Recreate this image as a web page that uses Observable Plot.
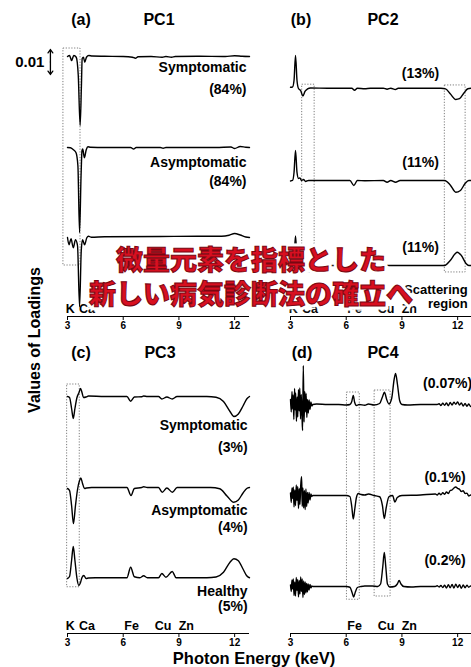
<!DOCTYPE html>
<html>
<head>
<meta charset="utf-8">
<script src="https://cdn.jsdelivr.net/npm/d3@7"></script>
<script src="https://cdn.jsdelivr.net/npm/@observablehq/plot@0.6"></script>
<style>
  html, body { margin: 0; padding: 0; background: #fff; }
  body { width: 471px; height: 667px; position: relative; overflow: hidden;
         font-family: "Liberation Sans", Arial, sans-serif; font-weight: bold; color: #000; }
  .pane { position: absolute; }
  .pane svg { max-width: none !important; }
  .t { position: absolute; transform: translate(-50%, -50%); white-space: nowrap; }
  .banner { position: absolute; left: 0; top: 242px; width: 502px; text-align: center;
            font-family: "Noto Sans CJK JP", "Noto Sans CJK SC", sans-serif; font-weight: 900;
            font-size: 27px; line-height: 34px; }
  .banner div { position: absolute; left: 0; top: 0; width: 100%; }
  .halo { color: #fff; -webkit-text-stroke: 7px #fff;
          text-shadow: 0 0 3px #fff, 0 0 5px #fff, 0 2px 8px rgba(255,255,255,0.7); }
  .ink { color: #d80f20; -webkit-text-stroke: 1px #7a0712; }
</style>
</head>
<body>
<script>
// ---- loading spectra: [photon energy (keV), loading] ----
const pc1Symptomatic = [[3.00,0.0000],[3.11,0.0004],[3.22,-0.0016],[3.34,0.0004],[3.47,-0.0003],[3.58,-0.0076],[3.68,-0.0276],[3.75,-0.0116],[3.79,-0.0008],[3.86,-0.0003],[3.93,-0.0023],[4.02,-0.0003],[4.15,0.0004],[4.33,0.0002],[5.0,0.0001],[6.0,0.0000],[6.5,-0.0003],[6.66,-0.0007],[6.8,-0.0001],[7.5,0.0000],[8.1,-0.0003],[8.3,0.0000],[8.6,-0.0003],[8.8,0.0000],[10.0,0.0001],[11.5,0.0000],[12.0,0.0003],[12.4,0.0001],[12.8,0.0000]];
const pc1Asymptomatic = [[3.00,0.0000],[3.16,-0.0001],[3.32,-0.0009],[3.46,-0.0021],[3.56,-0.0073],[3.65,-0.0341],[3.73,-0.0113],[3.78,-0.0013],[3.82,-0.0006],[3.91,-0.0041],[4.01,-0.0009],[4.10,0.0003],[4.24,0.0001],[5.0,0.0000],[6.4,0.0000],[6.56,-0.0006],[6.7,0.0000],[8.0,0.0000],[8.15,-0.0003],[8.3,0.0000],[9.0,0.0000],[11.0,0.0000],[11.8,0.0002],[12.0,-0.0004],[12.3,0.0004],[12.6,0.0001],[12.8,0.0000]];
const pc1Healthy = [[3.00,0.0000],[3.08,-0.0029],[3.19,-0.0005],[3.31,-0.0041],[3.43,-0.0009],[3.54,-0.0033],[3.65,-0.0277],[3.74,-0.0053],[3.81,-0.0009],[3.92,-0.0029],[4.04,-0.0001],[4.13,0.0005],[4.29,0.0001],[5.0,0.0003],[8.0,0.0004],[10.0,0.0005],[11.3,0.0005],[11.7,0.0009],[12.0,0.0016],[12.3,0.0010],[12.6,0.0002],[12.8,0.0000]];

const pc2Symptomatic = [[3.00,0.0004],[3.11,0.0005],[3.19,0.0031],[3.27,0.0131],[3.35,0.0031],[3.43,-0.0001],[3.54,-0.0009],[3.67,-0.0031],[3.78,-0.0013],[3.92,-0.0003],[4.08,0.0001],[5.0,0.0000],[6.3,0.0000],[6.45,-0.0008],[6.6,0.0000],[7.0,-0.0002],[7.3,0.0000],[8.0,0.0000],[8.2,-0.0004],[8.4,0.0000],[8.65,-0.0005],[8.8,0.0000],[10.0,0.0000],[11.1,0.0000],[11.35,-0.0003],[11.6,-0.0022],[11.9,-0.0045],[12.1,-0.0042],[12.35,-0.0018],[12.55,-0.0002],[12.8,0.0000]];
const pc2Asymptomatic = [[3.00,-0.0002],[3.11,0.0000],[3.19,0.0032],[3.27,0.0120],[3.35,0.0032],[3.43,0.0008],[3.51,0.0010],[3.59,0.0000],[3.70,0.0004],[3.81,-0.0004],[3.97,0.0000],[5.0,0.0000],[6.2,0.0000],[6.41,-0.0020],[6.6,0.0000],[7.0,-0.0001],[8.0,0.0000],[8.2,-0.0007],[8.4,0.0000],[8.66,-0.0007],[8.9,0.0000],[11.3,0.0000],[11.6,-0.0018],[11.9,-0.0047],[12.15,-0.0040],[12.4,-0.0012],[12.6,0.0000],[12.8,0.0000]];
const pc2Healthy = [[3.00,0.0002],[3.11,0.0004],[3.19,0.0030],[3.27,0.0118],[3.35,0.0030],[3.43,0.0004],[3.6,0.0002],[3.8,-0.0002],[4.0,0.0000],[6.2,0.0000],[6.41,0.0010],[6.6,0.0000],[8.0,0.0000],[8.1,0.0003],[8.3,0.0000],[11.3,0.0000],[11.6,0.0020],[11.98,0.0053],[12.2,0.0040],[12.45,0.0008],[12.6,0.0000],[12.8,0.0000]];

const pc3Symptomatic = [[3.00,0.0000],[3.11,-0.0004],[3.22,-0.0048],[3.31,-0.0088],[3.40,-0.0048],[3.51,-0.0004],[3.62,0.0016],[3.70,0.0032],[3.78,0.0016],[3.86,-0.0004],[4.00,-0.0002],[4.13,0.0002],[5.0,0.0000],[6.2,0.0000],[6.4,-0.0019],[6.6,-0.0002],[7.0,-0.0001],[7.1,0.0002],[7.3,0.0000],[7.9,0.0000],[8.08,-0.0010],[8.35,-0.0002],[8.64,-0.0010],[8.9,0.0000],[10.5,0.0000],[11.0,-0.0003],[11.4,-0.0020],[11.75,-0.0060],[11.96,-0.0080],[12.2,-0.0070],[12.45,-0.0038],[12.65,-0.0010],[12.8,0.0000]];
const pc3Asymptomatic = [[3.00,-0.0004],[3.11,-0.0012],[3.22,-0.0072],[3.32,-0.0144],[3.43,-0.0072],[3.54,-0.0008],[3.65,0.0028],[3.72,0.0038],[3.81,0.0016],[3.92,-0.0004],[4.02,-0.0002],[4.3,0.0000],[6.2,0.0000],[6.42,-0.0032],[6.6,-0.0004],[7.0,0.0000],[7.1,0.0003],[7.3,0.0000],[7.9,0.0000],[8.1,-0.0019],[8.35,-0.0002],[8.65,-0.0019],[8.9,0.0000],[10.7,0.0000],[11.2,-0.0005],[11.6,-0.0035],[11.95,-0.0059],[12.2,-0.0050],[12.45,-0.0022],[12.65,-0.0004],[12.8,0.0000]];
const pc3Healthy = [[3.00,-0.0003],[3.11,0.0005],[3.22,0.0069],[3.31,0.0125],[3.40,0.0069],[3.51,-0.0003],[3.61,-0.0031],[3.70,-0.0019],[3.78,0.0001],[3.88,0.0009],[4.00,-0.0003],[4.13,-0.0001],[4.5,0.0000],[6.2,0.0000],[6.4,0.0042],[6.6,0.0004],[6.9,0.0000],[7.1,0.0008],[7.3,0.0000],[7.9,0.0000],[8.08,0.0017],[8.3,0.0002],[8.64,0.0025],[8.85,0.0000],[10.5,0.0000],[11.0,0.0003],[11.4,0.0022],[11.75,0.0062],[11.96,0.0076],[12.2,0.0068],[12.45,0.0035],[12.65,0.0008],[12.8,0.0000]];

const pc4Symptomatic = [[3.00,0.0020],[3.04,-0.0030],[3.08,0.0052],[3.11,-0.0018],[3.14,0.0038],[3.18,-0.0060],[3.22,0.0064],[3.25,-0.0022],[3.28,0.0046],[3.32,-0.0068],[3.36,0.0030],[3.39,-0.0050],[3.43,0.0060],[3.47,-0.0026],[3.50,0.0066],[3.54,-0.0058],[3.58,0.0040],[3.62,-0.0046],[3.65,-0.0104],[3.69,0.0156],[3.73,-0.0070],[3.77,0.0052],[3.80,-0.0030],[3.84,0.0044],[3.88,-0.0052],[3.92,0.0020],[3.96,-0.0034],[4.00,0.0018],[4.05,-0.0020],[4.10,0.0010],[4.15,-0.0006],[4.20,0.0000],[4.4,0.0002],[5.0,0.0000],[5.6,0.0000],[6.0,-0.0002],[6.2,0.0000],[6.3,0.0012],[6.38,0.0036],[6.45,0.0010],[6.55,-0.0004],[6.7,0.0000],[7.0,-0.0003],[7.2,0.0002],[7.5,-0.0002],[7.8,0.0004],[7.95,0.0030],[8.06,0.0049],[8.18,0.0020],[8.3,0.0002],[8.45,0.0025],[8.58,0.0100],[8.66,0.0124],[8.76,0.0080],[8.88,0.0015],[9.0,0.0000],[9.3,-0.0002],[10.0,0.0000],[10.9,0.0000],[11.0,0.0003],[11.1,-0.0004],[11.2,0.0005],[11.3,-0.0003],[11.4,0.0006],[11.5,-0.0005],[11.6,0.0008],[11.7,-0.0002],[11.8,0.0009],[11.9,0.0001],[12.0,0.0010],[12.1,-0.0002],[12.2,0.0006],[12.3,-0.0006],[12.4,0.0004],[12.5,-0.0007],[12.6,0.0002],[12.7,-0.0008],[12.8,-0.0003]];
const pc4Asymptomatic = [[3.00,0.0010],[3.04,-0.0028],[3.08,0.0030],[3.12,-0.0012],[3.15,0.0034],[3.19,-0.0046],[3.23,0.0022],[3.27,-0.0040],[3.31,0.0042],[3.35,-0.0020],[3.39,0.0036],[3.43,-0.0052],[3.47,0.0028],[3.51,-0.0036],[3.55,0.0040],[3.60,0.0075],[3.63,-0.0044],[3.67,0.0030],[3.71,-0.0050],[3.75,0.0020],[3.79,-0.0056],[3.83,0.0026],[3.87,-0.0044],[3.91,0.0012],[3.95,-0.0030],[4.00,0.0012],[4.05,-0.0018],[4.10,0.0006],[4.15,-0.0004],[4.20,0.0000],[5.0,0.0000],[6.0,0.0000],[6.2,-0.0004],[6.3,-0.0045],[6.38,-0.0094],[6.46,-0.0055],[6.55,-0.0008],[6.65,0.0008],[6.8,0.0004],[7.0,0.0002],[7.2,0.0006],[7.5,0.0000],[7.8,-0.0005],[7.95,-0.0040],[8.05,-0.0092],[8.15,-0.0050],[8.3,-0.0005],[8.5,0.0000],[8.62,-0.0026],[8.75,-0.0008],[9.0,0.0000],[10.0,0.0002],[10.8,0.0006],[10.9,0.0002],[11.0,0.0009],[11.1,0.0003],[11.2,0.0011],[11.3,0.0005],[11.4,0.0014],[11.5,0.0008],[11.6,0.0020],[11.7,0.0022],[11.8,0.0030],[11.9,0.0034],[12.0,0.0028],[12.1,0.0025],[12.2,0.0016],[12.3,0.0019],[12.4,0.0008],[12.5,0.0009],[12.6,-0.0002],[12.7,0.0002],[12.8,-0.0006]];
const pc4Healthy = [[3.00,0.0006],[3.04,-0.0020],[3.08,0.0026],[3.12,-0.0010],[3.15,0.0030],[3.19,-0.0036],[3.23,0.0018],[3.27,-0.0038],[3.31,0.0036],[3.35,-0.0016],[3.39,0.0028],[3.43,-0.0042],[3.47,0.0024],[3.51,-0.0030],[3.55,0.0038],[3.59,-0.0020],[3.63,0.0030],[3.67,-0.0044],[3.71,0.0022],[3.75,-0.0032],[3.79,0.0018],[3.83,-0.0026],[3.87,0.0012],[3.91,-0.0022],[3.95,0.0010],[4.00,-0.0014],[4.05,0.0008],[4.10,-0.0006],[4.15,0.0002],[4.20,0.0000],[5.0,0.0000],[6.0,0.0000],[6.2,-0.0003],[6.32,-0.0025],[6.40,-0.0042],[6.50,-0.0020],[6.6,-0.0004],[6.8,0.0000],[7.0,0.0002],[7.4,0.0002],[7.7,0.0000],[7.85,0.0010],[7.97,0.0080],[8.05,0.0136],[8.13,0.0080],[8.22,0.0010],[8.35,-0.0002],[8.6,0.0000],[8.75,0.0010],[8.85,0.0024],[8.95,0.0010],[9.1,0.0000],[9.5,-0.0002],[10.0,0.0000],[10.8,0.0000],[10.9,0.0003],[11.0,-0.0002],[11.1,0.0004],[11.2,-0.0004],[11.3,0.0005],[11.4,-0.0006],[11.5,0.0007],[11.6,-0.0005],[11.7,0.0008],[11.8,-0.0006],[11.9,0.0009],[12.0,-0.0004],[12.1,0.0007],[12.2,-0.0007],[12.3,0.0006],[12.4,-0.0005],[12.5,0.0005],[12.6,-0.0003],[12.7,0.0002],[12.8,0.0000]];

// ---- text ----
const pc1Labels = ["Symptomatic", "(84%)", "Asymptomatic", "(84%)"];
const pc2Labels = ["(13%)", "(11%)", "(11%)"];
const pc3Labels = ["Symptomatic", "(3%)", "Asymptomatic", "(4%)", "Healthy", "(5%)"];
const pc4Labels = ["(0.07%)", "(0.1%)", "(0.2%)"];
const scatterLabel = ["Scattering", "region"];
const elements = ["K", "Ca", "Fe", "Cu", "Zn"];
const elementKeV = [3.15, 4.05, 6.45, 8.15, 9.4];
const energyTicks = [3, 6, 9, 12];
const scaleBar = 0.01;

// ---- layout ----
const PX_PER_UNIT = 2500;          // 0.01 loading = 25 px
const ENERGY = [3, 12.8];
const FONT = "'Liberation Sans', Arial, sans-serif";

function el(idx) { return idx.map(i => ({name: elements[i], e: elementKeV[i]})); }

function makePanel(p) {
  const innerH = p.height - p.marginBottom;
  const yMax = p.firstBaseline / PX_PER_UNIT;
  const yMin = yMax - innerH / PX_PER_UNIT;
  const rows = p.curves.flatMap((pts, k) => pts.map(([e, v]) => ({e, v: v + p.offsets[k], k})));
  const rects = p.rects.map(([x1, x2, y1, y2]) => ({x1, x2, y1, y2}));
  const labels = p.labels.map((t, i) => ({t, e: p.labelPos[i][0], v: p.labelPos[i][1]}));
  const chart = Plot.plot({
    width: p.width, height: p.height,
    marginLeft: p.marginLeft, marginRight: p.width - p.marginLeft - 182,
    marginTop: 0, marginBottom: p.marginBottom,
    x: {domain: ENERGY},
    y: {domain: [yMin, yMax], axis: null},
    style: {background: "transparent", overflow: "visible", maxWidth: "none",
            fontFamily: FONT, fontWeight: "bold", color: "#000"},
    marks: [
      Plot.rect(rects, {x1: "x1", x2: "x2", y1: "y1", y2: "y2", fill: "none",
        stroke: "#7c7c7c", strokeWidth: 1, strokeDasharray: "1.2,1.6"}),
      Plot.line(rows, {x: "e", y: "v", z: "k", curve: "monotone-x", stroke: "#000", strokeWidth: 1.4}),
      Plot.ruleY([yMin], {stroke: "#000", strokeWidth: 1}),
      Plot.axisX({ticks: energyTicks, tickSize: 4, tickPadding: 1, fontSize: 10, fontWeight: "bold", label: null}),
      Plot.text(p.elements, {x: "e", text: "name", frameAnchor: "bottom", dy: -4, fontSize: 12.5, fontWeight: "bold"}),
      Plot.text(labels, {x: "e", y: "v", text: "t", textAnchor: p.labelAnchor, fontSize: 14, fontWeight: "bold"}),
      ...(p.extra || [])
    ]
  });
  const wrap = document.createElement("div");
  wrap.className = "pane";
  Object.assign(wrap.style, {left: p.left + "px", top: p.top + "px", width: p.width + "px", height: p.height + "px"});
  wrap.appendChild(chart);
  document.body.appendChild(wrap);
}

// (a) PC1
makePanel({
  left: 0, top: 0, width: 260, height: 335, marginLeft: 67, marginBottom: 19, firstBaseline: 56,
  curves: [pc1Symptomatic, pc1Asymptomatic, pc1Healthy], offsets: [0, -0.0364, -0.0724],
  rects: [[2.78, 3.70, 0.0032, -0.0836]],
  labels: pc1Labels, labelAnchor: "end",
  labelPos: [[12.64, -0.0044], [12.64, -0.0132], [12.64, -0.0424], [12.64, -0.0502]],
  elements: el([0, 1]),
  extra: [
    Plot.arrow([{y1: -0.0022, y2: -0.0022 + scaleBar / 2}, {y1: -0.0022, y2: -0.0022 - scaleBar / 2}],
      {x1: 2.08, x2: 2.08, y1: "y1", y2: "y2", stroke: "#000", strokeWidth: 1.3, headLength: 6, headAngle: 70}),
    Plot.text([scaleBar], {x: 1.76, y: -0.0024, text: d => d.toFixed(2), textAnchor: "end", fontSize: 15, fontWeight: "bold"})
  ]
});

// (b) PC2
makePanel({
  left: 240, top: 0, width: 250, height: 335, marginLeft: 50, marginBottom: 19, firstBaseline: 87.7,
  curves: [pc2Symptomatic, pc2Asymptomatic, pc2Healthy], offsets: [0, -0.0369, -0.0709],
  rects: [[3.63, 4.30, 0.0014, -0.0737], [11.31, 12.43, 0.0011, -0.0737]],
  labels: pc2Labels, labelAnchor: "middle",
  labelPos: [[10.0, 0.0059], [10.0, -0.0297], [10.0, -0.0637]],
  elements: el([0, 1, 2, 3, 4]),
  extra: [
    Plot.text([scatterLabel[0]], {x: 12.54, text: d => d, frameAnchor: "bottom", dy: -23, textAnchor: "end", fontSize: 13, fontWeight: "bold"}),
    Plot.text([scatterLabel[1]], {x: 12.54, text: d => d, frameAnchor: "bottom", dy: -9, textAnchor: "end", fontSize: 13, fontWeight: "bold"})
  ]
});

// (c) PC3
makePanel({
  left: 0, top: 335, width: 260, height: 332, marginLeft: 67, marginBottom: 34, firstBaseline: 61,
  curves: [pc3Symptomatic, pc3Asymptomatic, pc3Healthy], offsets: [0, -0.0364, -0.0725],
  rects: [[2.98, 3.66, 0.0048, -0.0763]],
  labels: pc3Labels, labelAnchor: "end",
  labelPos: [[12.7, -0.0116], [12.7, -0.0204], [12.7, -0.0456], [12.7, -0.0524], [12.7, -0.0780], [12.7, -0.0840]],
  elements: el([0, 1, 2, 3, 4])
});

// (d) PC4
makePanel({
  left: 240, top: 335, width: 250, height: 332, marginLeft: 50, marginBottom: 34, firstBaseline: 69,
  curves: [pc4Symptomatic, pc4Asymptomatic, pc4Healthy], offsets: [0, -0.0364, -0.0728],
  rects: [[6.04, 6.73, 0.0048, -0.0781], [7.53, 8.39, 0.0056, -0.0768]],
  labels: pc4Labels, labelAnchor: "middle",
  labelPos: [[11.46, 0.0084], [11.32, -0.0291], [11.32, -0.0624]],
  elements: el([2, 3, 4])
});

// panel titles and shared axis titles
const titles = [
  ["(a)", 81, 20, 16], ["PC1", 159, 20, 16], ["(b)", 301, 20, 16], ["PC2", 383, 20, 16],
  ["(c)", 81, 353, 16], ["PC3", 160, 353, 16], ["(d)", 302, 353, 16], ["PC4", 383, 353, 16],
  ["Photon Energy (keV)", 254, 658, 16.5]
];
for (const [txt, x, y, size] of titles) {
  const d = document.createElement("div");
  d.className = "t";
  d.textContent = txt;
  Object.assign(d.style, {left: x + "px", top: y + "px", fontSize: size + "px"});
  document.body.appendChild(d);
}
const yTitle = document.createElement("div");
yTitle.className = "t";
yTitle.textContent = "Values of Loadings";
Object.assign(yTitle.style, {left: "35px", top: "340px", fontSize: "16px",
  transform: "translate(-50%, -50%) rotate(-90deg)"});
document.body.appendChild(yTitle);

// headline banner
const headline = ["微量元素を指標とした", "新しい病気診断法の確立へ"];
const banner = document.createElement("div");
banner.className = "banner";
for (const cls of ["halo", "ink"]) {
  const layer = document.createElement("div");
  layer.className = cls;
  layer.innerHTML = headline.join("<br>");
  banner.appendChild(layer);
}
document.body.appendChild(banner);
</script>
</body>
</html>
